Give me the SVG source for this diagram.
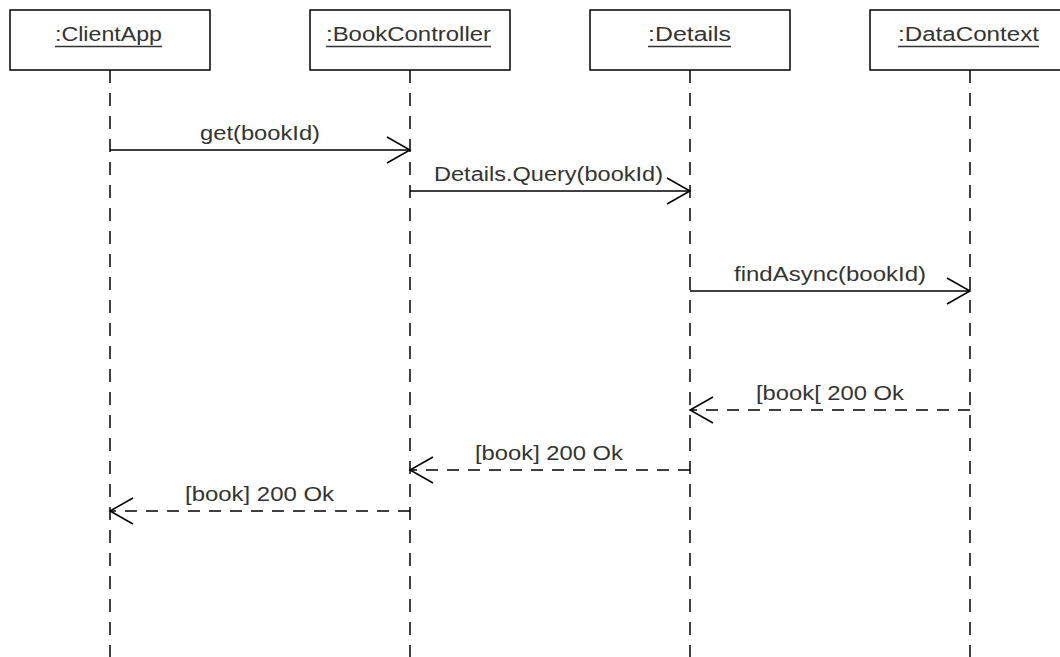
<svg xmlns="http://www.w3.org/2000/svg" width="1060" height="657" viewBox="0 0 1060 657">
  <defs>
    <style>
      .box { fill: #ffffff; stroke: #000000; stroke-width: 1.5; }
      .lifeline { stroke: #000000; stroke-width: 1.5; stroke-dasharray: 13 10; fill: none; }
      .uline { stroke: #333333; stroke-width: 1.3; }
      .msg { stroke: #000000; stroke-width: 1.5; fill: none; }
      .reply { stroke: #000000; stroke-width: 1.5; fill: none; stroke-dasharray: 12 9; }
      .label { font-family: "Liberation Sans", Arial, sans-serif; font-size: 20px; fill: #333333; text-anchor: middle; }
    </style>
    <marker id="open-arrow" viewBox="0 0 26 30" refX="24" refY="15" markerWidth="26" markerHeight="30" markerUnits="userSpaceOnUse" orient="auto">
      <path d="M1,2 L24,15 L1,28" fill="none" stroke="#000000" stroke-width="1.5"/>
    </marker>
  </defs>
  <rect width="1060" height="657" fill="#ffffff"/>

  <!-- lifelines -->
  <g id="lifelines">
    <line class="lifeline" x1="110" y1="70" x2="110" y2="657"/>
    <line class="lifeline" x1="410" y1="70" x2="410" y2="657"/>
    <line class="lifeline" x1="690" y1="70" x2="690" y2="657"/>
    <line class="lifeline" x1="970" y1="70" x2="970" y2="657"/>
  </g>

  <!-- participants -->
  <g id="client-app">
    <rect class="box" x="10" y="10" width="200" height="60"/>
    <text class="label" x="108.5" y="41" textLength="107" lengthAdjust="spacingAndGlyphs">:ClientApp</text>
    <line class="uline" x1="55" y1="46.5" x2="162" y2="46.5"/>
  </g>
  <g id="book-controller">
    <rect class="box" x="310" y="10" width="200" height="60"/>
    <text class="label" x="408.5" y="41" textLength="165" lengthAdjust="spacingAndGlyphs">:BookController</text>
    <line class="uline" x1="326" y1="46.5" x2="491" y2="46.5"/>
  </g>
  <g id="details">
    <rect class="box" x="590" y="10" width="200" height="60"/>
    <text class="label" x="689.5" y="41" textLength="83" lengthAdjust="spacingAndGlyphs">:Details</text>
    <line class="uline" x1="648" y1="46.5" x2="731" y2="46.5"/>
  </g>
  <g id="data-context">
    <rect class="box" x="870" y="10" width="200" height="60"/>
    <text class="label" x="968.5" y="41" textLength="141" lengthAdjust="spacingAndGlyphs">:DataContext</text>
    <line class="uline" x1="898" y1="46.5" x2="1039" y2="46.5"/>
  </g>

  <!-- messages -->
  <g id="connectors">
    <line class="msg" x1="110" y1="150" x2="410" y2="150" marker-end="url(#open-arrow)"/>
    <text class="label" x="260" y="140" textLength="120" lengthAdjust="spacingAndGlyphs">get(bookId)</text>

    <line class="msg" x1="410" y1="191" x2="690" y2="191" marker-end="url(#open-arrow)"/>
    <text class="label" x="548.5" y="181" textLength="229" lengthAdjust="spacingAndGlyphs">Details.Query(bookId)</text>

    <line class="msg" x1="690" y1="291" x2="970" y2="291" marker-end="url(#open-arrow)"/>
    <text class="label" x="830" y="281" textLength="192" lengthAdjust="spacingAndGlyphs">findAsync(bookId)</text>

    <line class="reply" x1="970" y1="410" x2="690" y2="410" marker-end="url(#open-arrow)"/>
    <text class="label" x="830" y="400" textLength="148" lengthAdjust="spacingAndGlyphs">[book[ 200 Ok</text>

    <line class="reply" x1="690" y1="470" x2="410" y2="470" marker-end="url(#open-arrow)"/>
    <text class="label" x="549" y="460" textLength="148" lengthAdjust="spacingAndGlyphs">[book] 200 Ok</text>

    <line class="reply" x1="410" y1="511" x2="110" y2="511" marker-end="url(#open-arrow)"/>
    <text class="label" x="259.5" y="501" textLength="149" lengthAdjust="spacingAndGlyphs">[book] 200 Ok</text>
  </g>
</svg>
